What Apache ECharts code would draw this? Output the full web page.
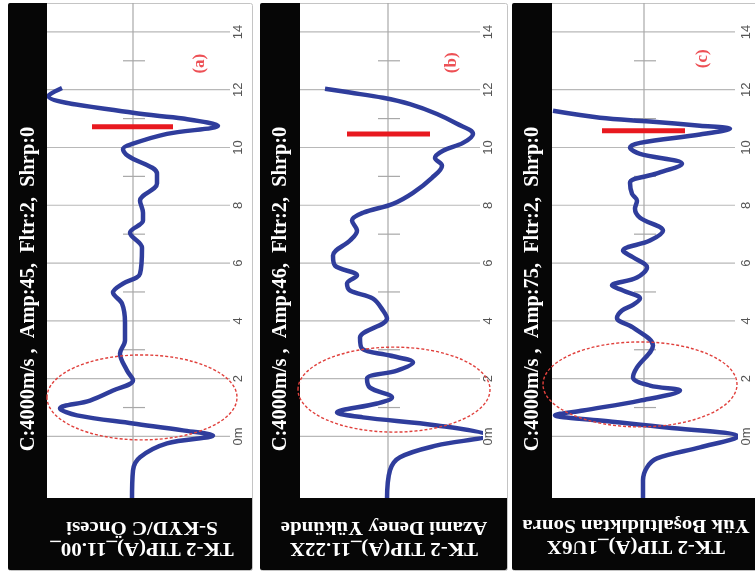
<!DOCTYPE html>
<html><head><meta charset="utf-8">
<script src="https://cdn.jsdelivr.net/npm/echarts@6/dist/echarts.min.js"></script>
<style>html,body{margin:0;padding:0;background:#fff}#c{width:755px;height:575px}</style>
</head><body><div id="c"></div>
<script>
// ---------------- data ----------------
const depthTicks = [0, 2, 4, 6, 8, 10, 12, 14];
const minorTicks = [1, 3, 5, 7, 9, 11, 13];
const panelTags = ['(a)', '(b)', '(c)'];
const headerTexts = [
  'C:4000m/s ,  Amp:45,  Fltr:2,  Shrp:0',
  'C:4000m/s ,  Amp:46,  Fltr:2,  Shrp:0',
  'C:4000m/s ,  Amp:75,  Fltr:2,  Shrp:0'
];
const titleLine1 = ['TK-2 TIP(A)_11.00_', 'TK-2 TIP(A)_11.22X', 'TK-2 TIP(A)_1U6X'];
const titleLine2 = ['S-KYD/C Öncesi', 'Azami Deney Yükünde', 'Yük Boşaltıldıktan Sonra'];

// trace (a): depth (m) and amplitude
const depthA = [12.06, 11.79, 11.2, 11.0, 10.75, 10.47, 10.13, 9.95, 9.71, 9.09, 8.75, 8.16, 7.74, 7.47, 7.05, 6.53, 5.63, 5.29, 4.98, 4.6, 3.94, 3.32, 2.87, 2.28, 1.94, 1.59, 1.24, 0.97, 0.73, 0.45, 0.21, 0.03, -0.24, -0.72, -1.18, -2.2];
const ampA   = [-71, -85, 0, 50, 85, 34, 0, -10, -5, 24, 24, 7, 10, 10, -3, 9, 7, -10, -20, -11, -8, -8, -13, -6, 0, -20, -43, -73, -56, 0, 50, 80, 34, 7, 0, -1];
// trace (b)
const depthB = [12.03, 11.9, 11.72, 11.5, 11.16, 10.82, 10.47, 10.16, 9.89, 9.64, 9.37, 8.95, 8.43, 8.05, 7.74, 7.47, 7.12, 6.78, 6.26, 5.91, 5.57, 5.29, 5.05, 4.77, 4.36, 4.08, 3.42, 3.04, 2.8, 2.56, 2.28, 2.0, 1.69, 1.35, 1.14, 0.83, 0.66, 0.38, 0.03, -0.31, -0.72, -1.17, -2.2];
const ampB   = [-63, -38, -5, 22, 49, 69, 85, 75, 55, 47, 54, 44, 25, 5, -25, -36, -31, -38, -55, -53, -31, -41, -38, -15, -5, -1, -28, -26, 2, 25, 9, -21, -18, 4, -11, -51, -25, 49, 99, 49, 12, 2, -1];
// trace (c)
const depthC = [11.27, 11.03, 10.9, 10.75, 10.65, 10.45, 10.16, 10.0, 9.78, 9.44, 9.1, 8.78, 8.4, 8.16, 7.88, 7.57, 7.12, 6.78, 6.43, 6.2, 5.85, 5.5, 5.22, 5.05, 4.77, 4.55, 4.36, 4.1, 3.77, 3.15, 2.39, 2.04, 1.76, 1.59, 1.24, 0.9, 0.73, 0.55, 0.31, 0.0, -0.38, -0.76, -1.07, -1.52, -2.14];
const ampC   = [-91, -44, 6, 56, 86, 56, -4, -14, -4, 38, 13, -14, -12, -7, -9, -4, 19, 6, -21, -11, 3, -7, -32, -21, -4, -11, -22, -27, -11, 9, -7, -11, 6, 36, -4, -61, -89, -44, 23, 94, 56, 13, 3, -1, -1];

// red marker bars
const redBarDepth = [10.72, 10.47, 10.58];
const redBarFrom  = [-41, -41, -42];
const redBarTo    = [40, 42, 41];
// panel tags position
const tagAmp   = [67, 64, 59];
const tagDepth = [12.9, 12.93, 13.07];
// dashed ellipses (center amp, center depth, radius amp, radius depth)
const ellipseAmp   = [9, 6, -4];
const ellipseDepth = [1.35, 1.62, 1.8];
const ellipseRx    = [95, 96, 97];
const ellipseRy    = [1.47, 1.47, 1.47];

// ---------------- layout ----------------
const panels = [
  {x0: 8,   w: 244, strip: 39, plotRight: 230, ampMin: -86, ampMax: 97, margin: 8, titleX: 142, titleY: 537},
  {x0: 260, w: 247, strip: 40, plotRight: 480, ampMin: -88, ampMax: 92, margin: 8, titleX: 384, titleY: 537},
  {x0: 512, w: 246, strip: 40, plotRight: 735, ampMin: -92, ampMax: 91, margin: 11, titleX: 636, titleY: 535}
];
const W = 755, H = 575, TOP = 3, BOTTOM = 75;
const depths = [depthA, depthB, depthC];
const amps = [ampA, ampB, ampC];
const zip = (a, b) => a.map((v, i) => [v, b[i]]);

const grid = [], xAxis = [], yAxis = [], series = [], graphic = [];
panels.forEach((p, i) => {
  grid.push({left: p.x0 + p.strip, right: W - p.plotRight, top: TOP, bottom: BOTTOM});
  xAxis.push({type: 'value', gridIndex: i, min: p.ampMin, max: p.ampMax, show: false});
  yAxis.push({
    type: 'value', gridIndex: i, min: -2.2, max: 15, position: 'right',
    axisLine: {show: false}, axisTick: {show: false}, splitLine: {show: false},
    axisLabel: {
      customValues: depthTicks, rotate: 90, margin: p.margin, align: 'center', verticalAlign: 'middle',
      color: '#555', fontSize: 13, fontFamily: 'Liberation Sans',
      formatter: v => (v === 0 ? '0m' : String(v))
    }
  });
  // horizontal grid lines
  series.push({
    type: 'custom', xAxisIndex: i, yAxisIndex: i, z: 1, silent: true,
    data: depthTicks.map(d => [0, d]),
    renderItem: (params, api) => {
      const cs = params.coordSys;
      const y = api.coord([0, api.value(1)])[1];
      return {type: 'line', shape: {x1: cs.x, y1: y, x2: cs.x + cs.width, y2: y},
              style: {stroke: '#b8b8b8', lineWidth: 1.2}};
    }
  });
  // center line
  series.push({
    type: 'custom', xAxisIndex: i, yAxisIndex: i, z: 1, silent: true,
    data: [[0, 0]],
    renderItem: (params, api) => {
      const cs = params.coordSys;
      const x = api.coord([api.value(0), 0])[0];
      return {type: 'line', shape: {x1: x, y1: cs.y, x2: x, y2: cs.y + cs.height},
              style: {stroke: '#a8a8a8', lineWidth: 1.2}};
    }
  });
  // minor ticks
  series.push({
    type: 'custom', xAxisIndex: i, yAxisIndex: i, z: 1, silent: true,
    data: minorTicks.map(d => [0, d]),
    renderItem: (params, api) => {
      const a = api.coord([-10, api.value(1)]);
      const b = api.coord([12, api.value(1)]);
      return {type: 'line', shape: {x1: a[0], y1: a[1], x2: b[0], y2: b[1]},
              style: {stroke: '#a8a8a8', lineWidth: 1.2}};
    }
  });
  // trace
  series.push({
    type: 'line', xAxisIndex: i, yAxisIndex: i, z: 3, clip: false,
    data: zip(amps[i], depths[i]), smooth: 0.35, showSymbol: false, symbol: 'none',
    lineStyle: {color: '#2f3d9c', width: 4.5}
  });
  // red bar
  series.push({
    type: 'line', xAxisIndex: i, yAxisIndex: i, z: 4, symbol: 'none',
    data: [[redBarFrom[i], redBarDepth[i]], [redBarTo[i], redBarDepth[i]]],
    lineStyle: {color: '#e8191f', width: 5, cap: 'butt'}
  });
  // tag label
  series.push({
    type: 'scatter', xAxisIndex: i, yAxisIndex: i, z: 5, symbolSize: 0,
    data: [[tagAmp[i], tagDepth[i]]],
    label: {show: true, position: 'inside', formatter: panelTags[i], rotate: 90,
            color: '#e8242a', fontFamily: 'Liberation Serif', fontWeight: 'bold', fontSize: 17}
  });
  // dashed ellipse
  series.push({
    type: 'custom', xAxisIndex: i, yAxisIndex: i, z: 20, silent: true, clip: false,
    data: [[ellipseAmp[i], ellipseDepth[i], ellipseRx[i], ellipseRy[i]]],
    renderItem: (params, api) => {
      const c = api.coord([api.value(0), api.value(1)]);
      const sz = api.size([api.value(2), api.value(3)]);
      return {type: 'ellipse', shape: {cx: c[0], cy: c[1], rx: sz[0], ry: sz[1]},
              style: {fill: 'none', stroke: '#e0403c', lineWidth: 1.4, lineDash: [3, 2]}};
    }
  });

  // panel frame / background
  graphic.push({type: 'rect', z: -10, shape: {x: p.x0 + 0.5, y: TOP + 0.5, width: p.w, height: 567, r: 2},
                style: {fill: '#fff', stroke: '#c4c4c4', lineWidth: 1}});
  // left black strip
  graphic.push({type: 'rect', z: 10, shape: {x: p.x0, y: TOP, width: p.strip, height: H - TOP - BOTTOM + 2, r: [2, 0, 0, 0]},
                style: {fill: '#060606'}});
  // bottom black block
  graphic.push({type: 'rect', z: 10, shape: {x: p.x0, y: H - BOTTOM - 2, width: p.w, height: 72, r: [0, 0, 2, 2]},
                style: {fill: '#060606'}});
  // header text (reads bottom to top)
  graphic.push({type: 'text', z: 11, x: p.x0 + p.strip / 2 + 1, y: 289, rotation: Math.PI / 2,
                scaleX: 1.13, scaleY: 1.15,
                style: {text: headerTexts[i], fill: '#fff', font: 'bold 18px "Liberation Serif"',
                        align: 'center', verticalAlign: 'middle'}});
  // bottom title (upside down)
  graphic.push({type: 'text', z: 11, x: p.titleX, y: p.titleY, rotation: Math.PI,
                scaleX: 1.16, scaleY: 1.0,
                style: {text: titleLine1[i] + '\n' + titleLine2[i], fill: '#fff',
                        font: 'bold 18px "Liberation Serif"', lineHeight: 21,
                        align: 'center', verticalAlign: 'middle'}});
});

const chart = echarts.init(document.getElementById('c'), null, {renderer: 'canvas'});
chart.setOption({
  animation: false,
  backgroundColor: '#fff',
  grid, xAxis, yAxis, series, graphic
});
</script>
</body></html>
